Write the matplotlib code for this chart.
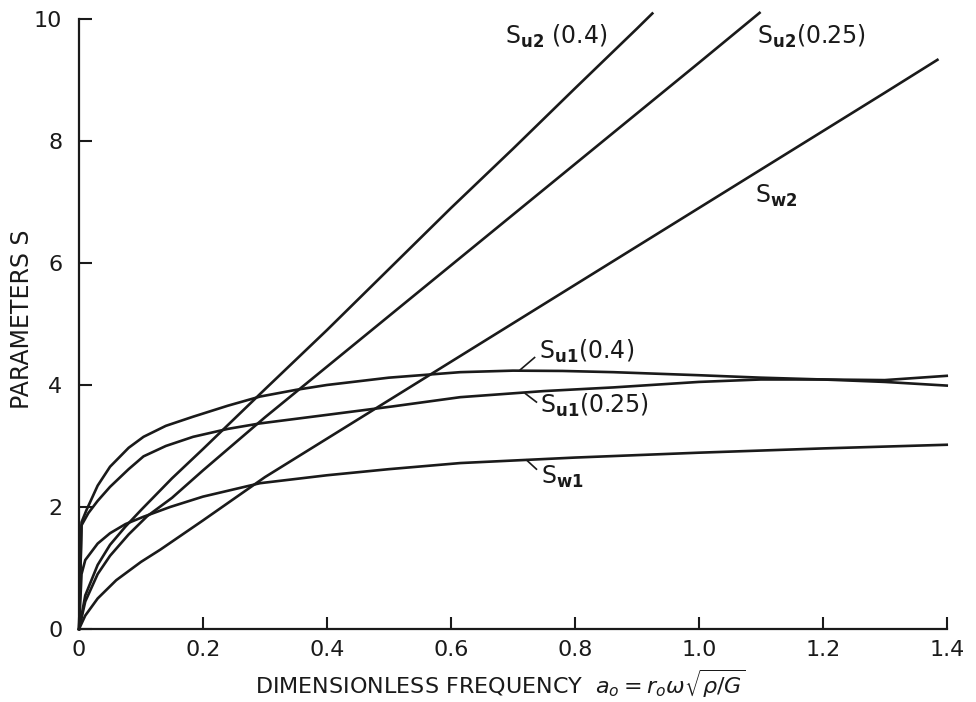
import matplotlib
matplotlib.use("Agg")
import matplotlib.pyplot as plt

# ---- data ----
x_su1_04 = [0, 0.004, 0.012, 0.03, 0.05, 0.08, 0.104, 0.14, 0.184, 0.24, 0.292, 0.35, 0.4,
            0.5, 0.615, 0.7, 0.78, 0.862, 1.0, 1.1, 1.2, 1.3, 1.4]
y_su1_04 = [0, 1.75, 1.95, 2.35, 2.66, 2.97, 3.15, 3.33, 3.48, 3.66, 3.81, 3.92, 4.0,
            4.12, 4.21, 4.235, 4.23, 4.21, 4.16, 4.12, 4.09, 4.05, 3.99]

x_su1_025 = [0, 0.004, 0.015, 0.03, 0.05, 0.08, 0.104, 0.14, 0.184, 0.24, 0.292, 0.4, 0.507,
             0.615, 0.75, 0.862, 1.0, 1.1, 1.2, 1.3, 1.4]
y_su1_025 = [0, 1.7, 1.9, 2.1, 2.33, 2.62, 2.83, 3.0, 3.15, 3.28, 3.37, 3.51, 3.65,
             3.8, 3.9, 3.96, 4.05, 4.09, 4.09, 4.08, 4.15]

x_sw1 = [0, 0.004, 0.01, 0.03, 0.05, 0.075, 0.104, 0.147, 0.2, 0.292, 0.4, 0.5, 0.615,
         0.8, 1.0, 1.2, 1.4]
y_sw1 = [0, 0.9, 1.13, 1.4, 1.57, 1.72, 1.84, 2.0, 2.17, 2.39, 2.52, 2.62, 2.72,
         2.81, 2.89, 2.96, 3.02]

x_su2_04 = [0, 0.01, 0.03, 0.05, 0.075, 0.1, 0.15, 0.2, 0.3, 0.4, 0.5, 0.6, 0.7, 0.8, 0.9, 0.925]
y_su2_04 = [0, 0.55, 1.05, 1.38, 1.68, 1.95, 2.47, 2.95, 3.93, 4.9, 5.9, 6.9, 7.87, 8.86, 9.84, 10.09]

x_su2_025 = [0, 0.01, 0.03, 0.05, 0.08, 0.11, 0.15, 0.2, 0.3, 0.4, 0.5, 0.6, 0.7, 0.8, 0.9,
             1.0, 1.098]
y_su2_025 = [0, 0.45, 0.9, 1.2, 1.55, 1.85, 2.15, 2.6, 3.47, 4.3, 5.13, 5.96, 6.79, 7.62, 8.45,
             9.28, 10.1]

x_sw2 = [0, 0.01, 0.03, 0.06, 0.1, 0.131, 0.2, 0.3, 0.4, 0.5, 0.6, 0.7, 0.8, 0.9, 1.0,
         1.1, 1.2, 1.3, 1.385]
y_sw2 = [0, 0.22, 0.5, 0.8, 1.1, 1.3, 1.78, 2.49, 3.12, 3.75, 4.38, 5.01, 5.64, 6.27, 6.9,
         7.53, 8.16, 8.79, 9.33]

x_ticks = [0, 0.2, 0.4, 0.6, 0.8, 1.0, 1.2, 1.4]
x_ticklabels = ["0", "0.2", "0.4", "0.6", "0.8", "1.0", "1.2", "1.4"]
y_ticks = [0, 2, 4, 6, 8, 10]
y_ticklabels = ["0", "2", "4", "6", "8", "10"]

# ---- figure ----
fig = plt.figure(figsize=(9.76, 7.02), dpi=100)
ax = fig.add_axes([0.081, 0.104, 0.889, 0.869])

lw = 1.9
col = "#1a1a1a"
for xs, ys in [(x_su1_04, y_su1_04), (x_su1_025, y_su1_025), (x_sw1, y_sw1),
               (x_su2_04, y_su2_04), (x_su2_025, y_su2_025), (x_sw2, y_sw2)]:
    ax.plot(xs, ys, color=col, lw=lw, clip_on=False, solid_joinstyle="round")

ax.set_xlim(0, 1.4)
ax.set_ylim(0, 10)
for s in ["top", "right"]:
    ax.spines[s].set_visible(False)
for s in ["left", "bottom"]:
    ax.spines[s].set_linewidth(1.6)
    ax.spines[s].set_color(col)

ax.set_xticks(x_ticks)
ax.set_xticklabels(x_ticklabels)
ax.set_yticks(y_ticks)
ax.set_yticklabels(y_ticklabels)
ax.tick_params(direction="in", length=9, width=1.5, colors=col, labelsize=16)
ax.tick_params(axis="x", pad=8)
ax.tick_params(axis="y", pad=12)

ax.set_xlabel(r"DIMENSIONLESS FREQUENCY  $a_o = r_o\omega\sqrt{\rho/G}$",
              fontsize=16, color=col)
ax.xaxis.set_label_coords(0.486, -0.106)
ax.xaxis.label.set_va("baseline")
ax.set_ylabel("PARAMETERS S", fontsize=17, color=col)
ax.yaxis.set_label_coords(-0.066, 0.507)
ax.yaxis.label.set_va("center")

fs = 17
ax.text(0.687, 9.72, r"S$_{\mathbf{u2}}$ (0.4)", fontsize=fs, color=col, va="center")
ax.text(1.094, 9.72, r"S$_{\mathbf{u2}}$(0.25)", fontsize=fs, color=col, va="center")
ax.text(1.09, 7.1, r"S$_{\mathbf{w2}}$", fontsize=fs, color=col, va="center")
ax.text(0.742, 4.55, r"S$_{\mathbf{u1}}$(0.4)", fontsize=fs, color=col, va="center")
ax.text(0.744, 3.67, r"S$_{\mathbf{u1}}$(0.25)", fontsize=fs, color=col, va="center")
ax.text(0.745, 2.5, r"S$_{\mathbf{w1}}$", fontsize=fs, color=col, va="center")

# leader lines
ax.plot([0.712, 0.735], [4.25, 4.45], color=col, lw=1.2)
ax.plot([0.72, 0.738], [3.86, 3.72], color=col, lw=1.2)
ax.plot([0.722, 0.738], [2.77, 2.62], color=col, lw=1.2)

fig.savefig("out.png", dpi=100)
